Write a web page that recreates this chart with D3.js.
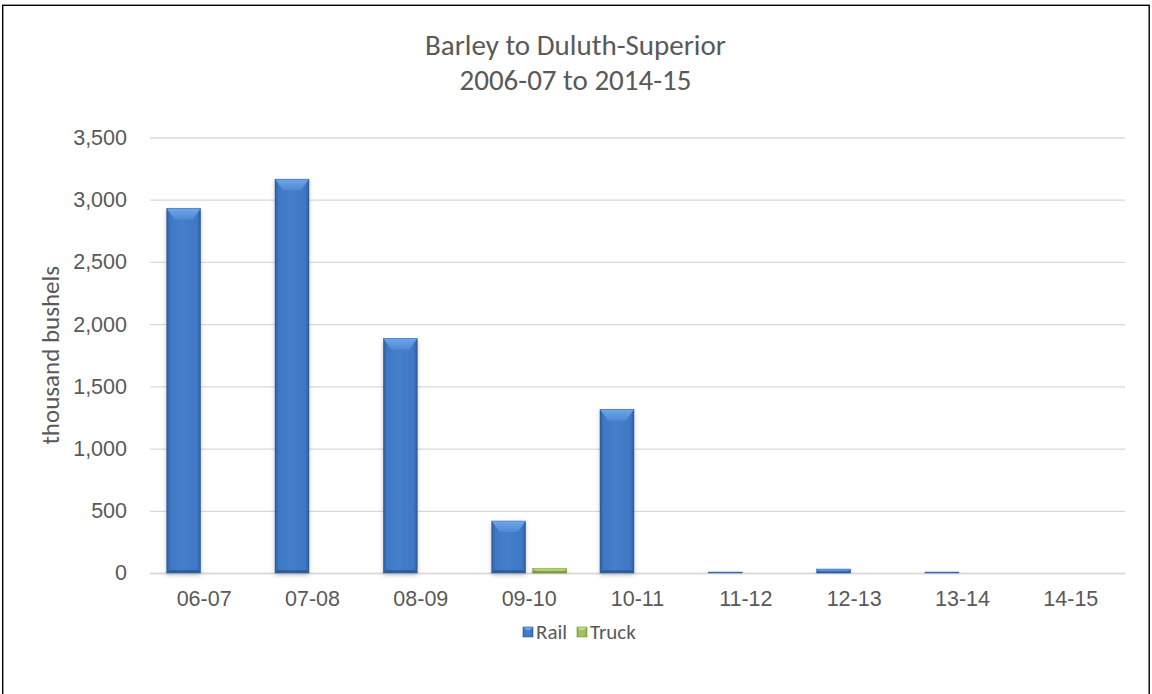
<!DOCTYPE html>
<html>
<head>
<meta charset="utf-8">
<script src="https://cdn.jsdelivr.net/npm/d3@7"></script>
<style>
  html, body { margin: 0; padding: 0; background: #fff; }
  svg { display: block; font-family: Carlito, Calibri, Lato, "Noto Sans", sans-serif; }
</style>
</head>
<body>
<svg id="chart" width="1152" height="694"></svg>
<script>
// Shipments of barley to Duluth-Superior, thousand bushels
const seasons = ["06-07", "07-08", "08-09", "09-10", "10-11", "11-12", "12-13", "13-14", "14-15"];
const modes = ["Rail", "Truck"];
const rail  = [2930, 3165, 1885, 418, 1315, 8, 32, 8, 0];
const truck = [0, 0, 0, 38, 0, 0, 0, 0, 0];
const yTicks = [0, 500, 1000, 1500, 2000, 2500, 3000, 3500];
const titleLines = ["Barley to Duluth-Superior", "2006-07 to 2014-15"];
const yTitle = "thousand bushels";

const svg = d3.select("#chart");
const plot = { left: 150, right: 1125, top: 137.5, bottom: 573 };
const textColor = "#595959";

// palette per series: edge, body, highlight (bevel top), bottom facet
const palette = {
  Rail:  { edge: "#2c5a98", body: "#3e77c4", mid: "#457fcc", top: "#6ea6ea", topLow: "#5089d3", bottom: "#2a548e" },
  Truck: { edge: "#7a963b", body: "#9bbb59", mid: "#a2c25f", top: "#c4e27c", topLow: "#abcb63", bottom: "#6f8a33" }
};

const defs = svg.append("defs");
modes.forEach(m => {
  const p = palette[m];
  const g = defs.append("linearGradient").attr("id", "body-" + m)
    .attr("x1", 0).attr("x2", 1).attr("y1", 0).attr("y2", 0);
  [[0, p.edge], [0.1, p.body], [0.45, p.mid], [0.9, p.body], [1, p.edge]]
    .forEach(([o, c]) => g.append("stop").attr("offset", o).attr("stop-color", c));
  const t = defs.append("linearGradient").attr("id", "top-" + m)
    .attr("x1", 0).attr("x2", 0).attr("y1", 0).attr("y2", 1);
  [[0, p.top], [1, p.topLow]].forEach(([o, c]) => t.append("stop").attr("offset", o).attr("stop-color", c));
});
const shadow = defs.append("filter").attr("id", "barShadow")
  .attr("x", "-20%").attr("y", "-5%").attr("width", "140%").attr("height", "115%");
shadow.append("feDropShadow").attr("dx", 0).attr("dy", 2).attr("stdDeviation", 2)
  .attr("flood-color", "#000").attr("flood-opacity", 0.22);

// outer frame
svg.append("rect")
  .attr("x", 2.7).attr("y", 5.3).attr("width", 1146.5).attr("height", 700)
  .attr("fill", "none").attr("stroke", "#000").attr("stroke-width", 1.4);

// title (two lines)
svg.append("g").selectAll("text").data(titleLines).join("text")
  .attr("x", 575.5).attr("y", (d, i) => 55 + i * 35)
  .attr("text-anchor", "middle").attr("fill", textColor)
  .attr("font-size", 29).text(d => d);

// scales
const x = d3.scaleBand().domain(seasons).range([plot.left, plot.right]).padding(0);
const xs = d3.scaleBand().domain(modes).range([0, x.bandwidth()])
  .paddingInner(7 / 41).paddingOuter(0.406);
const y = d3.scaleLinear().domain([0, 3500]).range([plot.bottom, plot.top]);

// gridlines + y tick labels
const yAxis = svg.append("g")
  .attr("transform", `translate(${plot.left},0)`)
  .call(d3.axisLeft(y).tickValues(yTicks).tickFormat(d3.format(","))
    .tickSize(-(plot.right - plot.left)).tickPadding(23));
yAxis.select(".domain").remove();
yAxis.selectAll(".tick line").attr("stroke", "#d9d9d9").attr("stroke-width", 1.3);
yAxis.selectAll(".tick text").attr("fill", textColor).attr("font-size", 21.5)
  .attr("font-family", null);

// y axis title
svg.append("text")
  .attr("transform", `translate(50,${(plot.top + plot.bottom) / 2}) rotate(-90)`)
  .attr("text-anchor", "middle").attr("dominant-baseline", "central")
  .attr("fill", textColor).attr("font-size", 25).text(yTitle);

// x category labels
const xAxis = svg.append("g")
  .attr("transform", `translate(0,${plot.bottom})`)
  .call(d3.axisBottom(x).tickSize(0).tickPadding(18));
xAxis.select(".domain").attr("stroke", "#d9d9d9").attr("stroke-width", 1.3);
xAxis.selectAll(".tick text").attr("fill", textColor).attr("font-size", 21.5)
  .attr("font-family", null);

// beveled bars
function drawBar(g, m, bx, by, bw, bh) {
  const p = palette[m];
  if (bh <= 0) return;
  const grp = g.append("g").attr("filter", "url(#barShadow)");
  grp.append("rect").attr("x", bx).attr("y", by).attr("width", bw).attr("height", bh)
    .attr("fill", `url(#body-${m})`);
  const d = Math.min(11, bh / 2);
  const ins = Math.min(8, d * 0.75);
  grp.append("path")
    .attr("d", `M${bx},${by}L${bx + bw},${by}L${bx + bw - ins},${by + d}L${bx + ins},${by + d}Z`)
    .attr("fill", `url(#top-${m})`);
  const db = Math.min(3, bh / 3);
  grp.append("path")
    .attr("d", `M${bx},${by + bh}L${bx + bw},${by + bh}L${bx + bw - db},${by + bh - db}L${bx + db},${by + bh - db}Z`)
    .attr("fill", p.bottom).attr("opacity", 0.75);
  grp.append("rect").attr("x", bx).attr("y", by).attr("width", bw).attr("height", bh)
    .attr("fill", "none").attr("stroke", p.edge).attr("stroke-width", 0.6).attr("stroke-opacity", 0.7);
}

const series = { Rail: rail, Truck: truck };
const barsG = svg.append("g");
seasons.forEach((s, i) => {
  modes.forEach(m => {
    const v = series[m][i];
    const bx = x(s) + xs(m);
    drawBar(barsG, m, bx, y(v), xs.bandwidth(), y(0) - y(v));
  });
});

// legend
const legend = svg.append("g").attr("transform", "translate(0,632)");
const legendItems = [{ m: "Rail", x: 523 }, { m: "Truck", x: 577 }];
legendItems.forEach(it => {
  const p = palette[it.m];
  legend.append("rect").attr("x", it.x).attr("y", -5).attr("width", 10).attr("height", 10)
    .attr("fill", `url(#body-${it.m})`);
  legend.append("path")
    .attr("d", `M${it.x},-5L${it.x + 10},-5L${it.x + 7},-2L${it.x + 3},-2Z`)
    .attr("fill", p.top);
  legend.append("rect").attr("x", it.x).attr("y", -5).attr("width", 10).attr("height", 10)
    .attr("fill", "none").attr("stroke", p.edge).attr("stroke-width", 0.6);
  legend.append("text").attr("x", it.x + 13).attr("y", 0)
    .attr("dominant-baseline", "central").attr("fill", textColor).attr("font-size", 21)
    .text(it.m);
});
</script>
</body>
</html>
